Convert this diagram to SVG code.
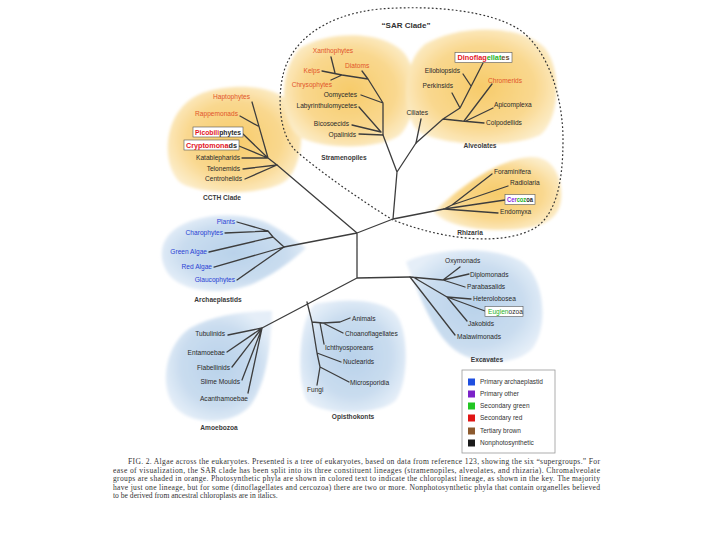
<svg xmlns="http://www.w3.org/2000/svg" width="720" height="540" viewBox="0 0 720 540">
<defs>
<radialGradient id="gOr" cx="0.5" cy="0.5" r="0.55">
<stop offset="0" stop-color="#f7cb6a"/><stop offset="0.65" stop-color="#f9d88f"/><stop offset="1" stop-color="#fcecc8"/>
</radialGradient>
<radialGradient id="gBl" cx="0.5" cy="0.5" r="0.55">
<stop offset="0" stop-color="#b9d2ea"/><stop offset="0.65" stop-color="#c9dcef"/><stop offset="1" stop-color="#e5eef8"/>
</radialGradient>
<filter id="soft" x="-10%" y="-10%" width="120%" height="120%"><feGaussianBlur stdDeviation="1.5"/></filter>
<style>
.t{font-family:"Liberation Sans",Arial,sans-serif;font-size:6.6px;fill:#2a2a2a}
.e{text-anchor:end}.m{text-anchor:middle}
.g{font-weight:bold;fill:#3a3a3a}
.bl{fill:#2a3fd4}.or{fill:#e2552a}.rd{fill:#e3161f}.gn{fill:#27b327}.pu{fill:#8a2be2}
.br{stroke:#3d3d3d;stroke-width:1.3;fill:none;stroke-linecap:round;stroke-linejoin:round}
.bx{fill:#fff;stroke:#555;stroke-width:0.6}
.cap{font-family:"Liberation Serif","Times New Roman",serif;font-size:7.6px;fill:#333}
.lg{font-family:"Liberation Sans",Arial,sans-serif;font-size:6.5px;fill:#333}
</style>
</defs>
<rect width="720" height="540" fill="#fff"/>

<g id="blobs" filter="url(#soft)">
<path id="b-ccth" fill="url(#gOr)" d="M200,94 C232,82 280,84 295,108 C306,128 302,165 287,180 C266,196 202,196 181,183 C160,166 162,110 200,94 Z"/>
<path id="b-stram" fill="url(#gOr)" d="M300,48 C330,30 385,30 405,54 C420,74 418,116 400,135 C380,150 320,150 298,136 C280,120 278,70 300,48 Z"/>
<path id="b-alv" fill="url(#gOr)" d="M425,44 C460,24 520,24 545,48 C562,70 560,120 540,135 C510,149 440,146 418,131 C402,116 400,64 425,44 Z"/>
<path id="b-rhiz" fill="url(#gOr)" d="M434,212 C458,188 498,159 530,157 C555,156 563,180 561,200 C559,221 540,230 500,230 C470,230 445,224 434,212 Z"/>
<path id="b-arch" fill="url(#gBl)" d="M175,229 C200,211 250,211 275,227 C290,236 300,244 306,248 C295,258 280,271 255,283 C225,296 185,293 170,276 C157,260 160,240 175,229 Z"/>
<path id="b-amoe" fill="url(#gBl)" d="M272,311 C271,340 268,382 250,406 C232,426 190,426 174,406 C159,386 165,345 190,328 C215,314 250,311 272,311 Z"/>
<path id="b-opis" fill="url(#gBl)" d="M315,304 C345,298 382,299 396,314 C409,330 409,382 396,400 C381,416 320,416 307,401 C297,386 297,320 315,304 Z"/>
<path id="b-exc" fill="url(#gBl)" d="M406,262 C430,249 490,244 521,261 C546,277 549,331 531,350 C511,368 470,365 450,346 C430,326 418,292 406,262 Z"/>
</g>

<path id="sar-outline" d="M393,220 C360,200 315,168 295,150 C278,132 278,95 283,75 C290,45 320,15 380,9 C430,5 490,10 520,30 C550,52 563,100 563,140 C563,185 555,215 535,228 C505,245 450,242 393,220 Z" fill="none" stroke="#333" stroke-width="1.2" stroke-dasharray="1.8,2.2"/>
<text id="sar-title" class="t" x="406" y="28" text-anchor="middle" style="font-size:8px;font-weight:bold;fill:#333">“SAR Clade”</text>

<g id="connectors" class="br">
<path d="M357,233 L357,278 M357,233 L393,219 M357,233 L284,247 M357,233 L277,165 M393,219 L397,172 M397,172 L383,135 M397,172 L416,143 M393,219 L444,209 M357,278 L410,277 M357,278 L262,328"/>
<path d="M277,165 L245,179 M277,165 L243,169 M277,165 L268,158 M268,158 L242,158 M268,158 L239,146 M268,158 L243,134 M268,158 L252,102 M240,116 L258,126"/>
<path d="M284,247 L237,280 M284,247 L214,267 M284,247 L273,237 M273,237 L209,252 M273,237 L268,231 M268,231 L225,233 M268,231 L237,222"/>
<path d="M383,135 L359,134 M381,132 L352,125 M381,132 L359,107 M383,135 L383,103 M383,103 L361,95 M383,103 L368,79 M368,79 L362,71 M368,79 L342,75 M342,75 L322,71 M335,73 L331,57 M342,75 L331,80"/>
<path d="M416,143 L421,119 M416,143 L443,119 M443,119 L460,108 M460,108 L452,93 M460,108 L483,63 M471,86 L463,74 M443,119 L462,121 M462,121 L484,123 M464,121 L492,84 M466,121 L493,108"/>
<path d="M444,209 L452,205 M452,205 L492,174 M452,205 L508,186 M444,209 L505,200 M444,209 L498,213"/>
<path d="M307,302 L312,322 M312,322 L323,323 M323,323 L340,322 L350,318 M323,323 L343,333 M320,323 L324,344 M312,322 L317,353 M317,353 L341,362 M317,353 L320,367 M320,367 L349,382 M320,367 L317,385"/>
<path d="M262,328 L228,335 M262,328 L227,352 M262,328 L232,367 M262,328 L242,380 M262,328 L248,393"/>
<path d="M410,277 L455,335 M413,277 L447,297 M447,297 L471,299 M447,297 L485,311 M447,297 L467,321 M410,277 L443,280 M443,280 L460,267 M443,280 L469,274 M443,280 L465,287"/>
</g>

<g id="ccth">
<text id="n-haptophytes" class="t e or" x="250" y="99.3">Haptophytes</text>
<text id="n-rappemonads" class="t e or" x="238" y="116.3">Rappemonads</text>
<g id="n-picobiliphytes"><rect class="bx" x="193" y="127" width="50" height="10"/><text class="t" x="195" y="134.5" textLength="46" lengthAdjust="spacingAndGlyphs" style="font-weight:bold"><tspan class="rd">Picobili</tspan>phytes</text></g>
<g id="n-cryptomonads"><rect class="bx" x="184" y="140" width="55" height="10"/><text class="t" x="186" y="147.5" textLength="51" lengthAdjust="spacingAndGlyphs" style="font-weight:bold"><tspan class="rd">Cryptomona</tspan>ds</text></g>
<text id="n-katablepharids" class="t e" x="240" y="160.3">Katablepharids</text>
<text id="n-telonemids" class="t e" x="240" y="171.3">Telonemids</text>
<text id="n-centrohelids" class="t e" x="242" y="181.3">Centrohelids</text>
<text id="l-ccth" class="t m g" x="222" y="200.3">CCTH Clade</text>
</g>

<g id="stramenopiles">
<text id="n-xanthophytes" class="t m or" x="333" y="53.3">Xanthophytes</text>
<text id="n-diatoms" class="t or" x="345" y="68.3">Diatoms</text>
<text id="n-kelps" class="t e or" x="320" y="73.3">Kelps</text>
<text id="n-chrysophytes" class="t e or" x="332" y="87.3">Chrysophytes</text>
<text id="n-oomycetes" class="t e" x="357" y="96.5">Oomycetes</text>
<text id="n-labyrinthulomycetes" class="t e" x="357" y="107.5">Labyrinthulomycetes</text>
<text id="n-bicosoecids" class="t e" x="349" y="125.5">Bicosoecids</text>
<text id="n-opalinids" class="t e" x="356" y="136.5">Opalinids</text>
<text id="l-stramenopiles" class="t m g" x="344" y="159.5">Stramenopiles</text>
</g>

<g id="alveolates">
<g id="n-dinoflagellates"><rect class="bx" x="455" y="52.5" width="57" height="10"/><text class="t" x="457.5" y="60" textLength="52" lengthAdjust="spacingAndGlyphs" style="font-weight:bold"><tspan class="rd">Dinoflag</tspan><tspan class="gn">ellat</tspan><tspan fill="#6b4a2a">es</tspan></text></g>
<text id="n-ellobiopsids" class="t e" x="460" y="73.3">Ellobiopsids</text>
<text id="n-perkinsids" class="t e" x="453" y="88.3">Perkinsids</text>
<text id="n-chromerids" class="t or" x="488" y="83.3">Chromerids</text>
<text id="n-apicomplexa" class="t" x="494" y="107.3">Apicomplexa</text>
<text id="n-colpodellids" class="t" x="486" y="125.3">Colpodellids</text>
<text id="n-ciliates" class="t e" x="428" y="115.3">Ciliates</text>
<text id="l-alveolates" class="t m g" x="480" y="148.3">Alveolates</text>
</g>

<g id="rhizaria">
<text id="n-foraminifera" class="t" x="494" y="174.3">Foraminifera</text>
<text id="n-radiolaria" class="t" x="510" y="185.3">Radiolaria</text>
<g id="n-cercozoa"><rect class="bx" x="505" y="194.5" width="30" height="10"/><text class="t" x="507" y="202" textLength="26" lengthAdjust="spacingAndGlyphs" style="font-weight:bold"><tspan class="pu">Cer</tspan><tspan class="gn">coz</tspan>oa</text></g>
<text id="n-endomyxa" class="t" x="500" y="214.3">Endomyxa</text>
<text id="l-rhizaria" class="t m g" x="470" y="234.5">Rhizaria</text>
</g>

<g id="archaeplastids">
<text id="n-plants" class="t e bl" x="235" y="224.3">Plants</text>
<text id="n-charophytes" class="t e bl" x="223" y="235.3">Charophytes</text>
<text id="n-green-algae" class="t e bl" x="207" y="254.3">Green Algae</text>
<text id="n-red-algae" class="t e bl" x="212" y="269.3">Red Algae</text>
<text id="n-glaucophytes" class="t e bl" x="235" y="282.3">Glaucophytes</text>
<text id="l-archaeplastids" class="t m g" x="218" y="302.3">Archaeplastids</text>
</g>

<g id="amoebozoa">
<text id="n-tubulinids" class="t e" x="225" y="336.3">Tubulinids</text>
<text id="n-entamoebae" class="t e" x="225" y="355.3">Entamoebae</text>
<text id="n-flabellinids" class="t e" x="230" y="370.3">Flabellinids</text>
<text id="n-slime-moulds" class="t e" x="240" y="384.3">Slime Moulds</text>
<text id="n-acanthamoebae" class="t e" x="248" y="401.3">Acanthamoebae</text>
<text id="l-amoebozoa" class="t m g" x="219" y="430.3">Amoebozoa</text>
</g>

<g id="opisthokonts">
<text id="n-animals" class="t" x="352" y="321.3">Animals</text>
<text id="n-choanoflagellates" class="t" x="345" y="336.3">Choanoflagellates</text>
<text id="n-ichthyosporeans" class="t" x="325" y="350.3">Ichthyosporeans</text>
<text id="n-nuclearids" class="t" x="343" y="364.3">Nuclearids</text>
<text id="n-microsporidia" class="t" x="350" y="385.3">Microsporidia</text>
<text id="n-fungi" class="t" x="307" y="392.3">Fungi</text>
<text id="l-opisthokonts" class="t m g" x="353" y="419.3">Opisthokonts</text>
</g>

<g id="excavates">
<text id="n-oxymonads" class="t" x="445" y="263.3">Oxymonads</text>
<text id="n-diplomonads" class="t" x="470" y="277.3">Diplomonads</text>
<text id="n-parabasalids" class="t" x="467" y="289.3">Parabasalids</text>
<text id="n-heterolobosea" class="t" x="473" y="300.8">Heterolobosea</text>
<g id="n-euglenozoa"><rect class="bx" x="485" y="306.5" width="38" height="10"/><text class="t" x="488" y="314"><tspan class="gn">Euglen</tspan>ozoa</text></g>
<text id="n-jakobids" class="t" x="468" y="326">Jakobids</text>
<text id="n-malawimonads" class="t" x="457" y="339.3">Malawimonads</text>
<text id="l-excavates" class="t m g" x="487" y="362.3">Excavates</text>
</g>

<g id="legend">
<rect x="462" y="370" width="93" height="83" fill="#fff" stroke="#999" stroke-width="0.8"/>
<rect x="468" y="378.5" width="7" height="7" fill="#1f4fe0"/><text class="lg" x="480" y="384.3">Primary archaeplastid</text>
<rect x="468" y="390.5" width="7" height="7" fill="#7b22c8"/><text class="lg" x="480" y="396.3">Primary other</text>
<rect x="468" y="402.5" width="7" height="7" fill="#22c522"/><text class="lg" x="480" y="408.3">Secondary green</text>
<rect x="468" y="414.5" width="7" height="7" fill="#e01515"/><text class="lg" x="480" y="420.3">Secondary red</text>
<rect x="468" y="427.5" width="7" height="7" fill="#8c5a2e"/><text class="lg" x="480" y="433.3">Tertiary brown</text>
<rect x="468" y="439.5" width="7" height="7" fill="#1a1a1a"/><text class="lg" x="480" y="445.3">Nonphotosynthetic</text>
</g>

<g id="caption">
<text class="cap" x="128" y="464" textLength="472" lengthAdjust="spacing">FIG. 2.  Algae across the eukaryotes. Presented is a tree of eukaryotes, based on data from reference 123, showing the six “supergroups.” For</text>
<text class="cap" x="113" y="472.5" textLength="487" lengthAdjust="spacing">ease of visualization, the SAR clade has been split into its three constituent lineages (stramenopiles, alveolates, and rhizaria). Chromalveolate</text>
<text class="cap" x="113" y="481" textLength="487" lengthAdjust="spacing">groups are shaded in orange. Photosynthetic phyla are shown in colored text to indicate the chloroplast lineage, as shown in the key. The majority</text>
<text class="cap" x="113" y="489.5" textLength="487" lengthAdjust="spacing">have just one lineage, but for some (dinoflagellates and cercozoa) there are two or more. Nonphotosynthetic phyla that contain organelles believed</text>
<text class="cap" x="113" y="498">to be derived from ancestral chloroplasts are in italics.</text>
</g>
</svg>
